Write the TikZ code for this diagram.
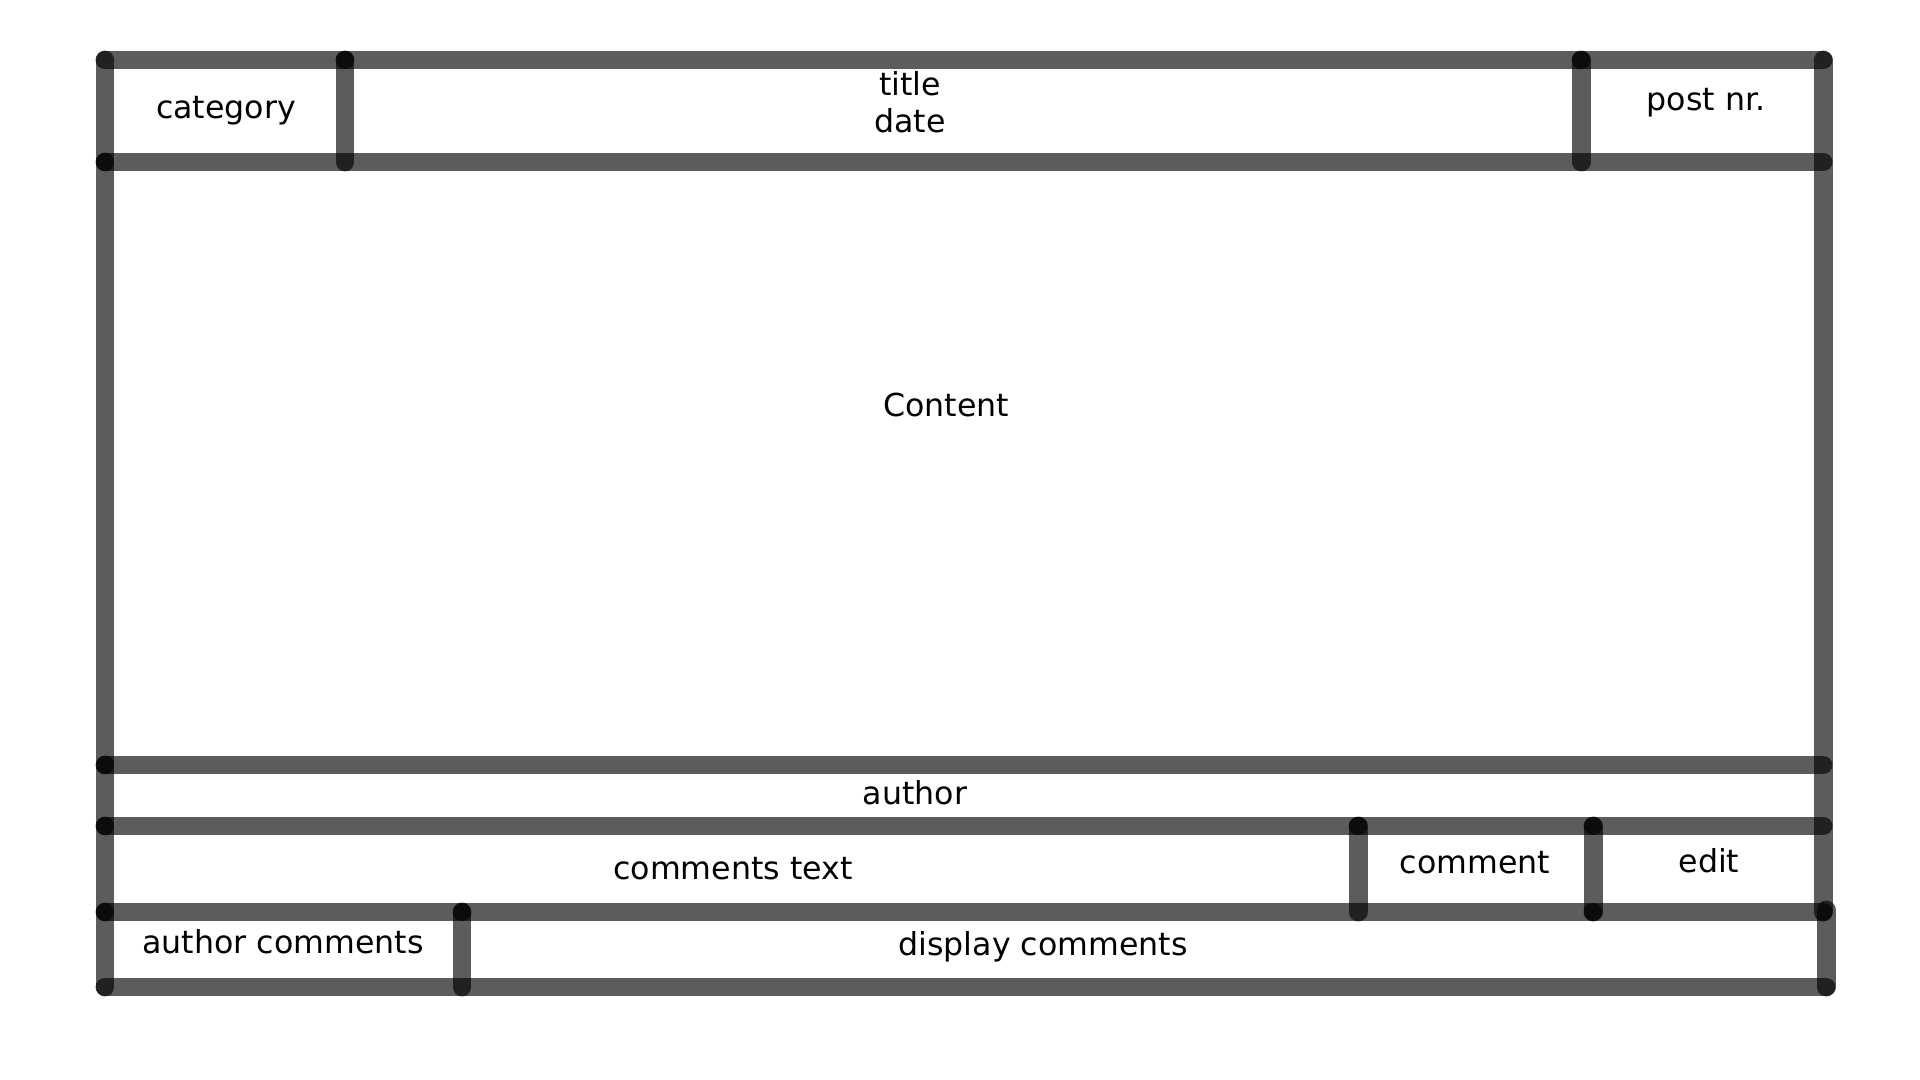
\documentclass[tikz,border=0pt]{standalone}
\usepackage{fontspec}
\setmainfont{DejaVu Sans}
\usepackage{tikz}
\tikzset{
% Two styles for the wireframe: pen stroke and box label
pen stroke/.style={line width=5.4pt,line cap=round,draw=black,draw opacity=0.64},
box label/.style={inner sep=0,anchor=base,font=\fontsize{9}{10.8}\selectfont}
}

\begin{document}
\begin{tikzpicture}
\useasboundingbox (0,0) rectangle (19.2,-10.8);
% corners and joints of the grid
\coordinate (a0) at (1.05,-0.60);
\coordinate (cat0) at (3.45,-0.60);
\coordinate (post0) at (15.81,-0.60);
\coordinate (r0) at (18.23,-0.60);
\coordinate (a1) at (1.05,-1.62);
\coordinate (cat1) at (3.45,-1.62);
\coordinate (post1) at (15.81,-1.62);
\coordinate (r1) at (18.23,-1.62);
\coordinate (a2) at (1.05,-7.65);
\coordinate (r2) at (18.23,-7.65);
\coordinate (a3) at (1.05,-8.26);
\coordinate (com3) at (13.58,-8.26);
\coordinate (edit3) at (15.93,-8.26);
\coordinate (r3) at (18.23,-8.26);
\coordinate (a4) at (1.05,-9.12);
\coordinate (auth4) at (4.62,-9.12);
\coordinate (com4) at (13.58,-9.12);
\coordinate (edit4) at (15.93,-9.12);
\coordinate (r4) at (18.23,-9.12);
\coordinate (rr4) at (18.26,-9.10);
\coordinate (a5) at (1.05,-9.87);
\coordinate (auth5) at (4.62,-9.87);
\coordinate (rr5) at (18.26,-9.87);

\foreach \p/\q in {a0/a1,a1/a2,a2/a3,a3/a4,a4/a5,r0/r4,rr4/rr5,
  a0/cat0,cat0/post0,post0/r0,a1/r1,a2/r2,
  a3/com3,com3/edit3,edit3/r3,a4/auth4,auth4/edit4,edit4/r4,a5/rr5,
  cat0/cat1,post0/post1,com3/com4,edit3/edit4,auth4/auth5}
  \draw[pen stroke] (\p) -- (\q);

\node[box label] (category) at (2.26,-1.19) {category};
\node[box label,align=center] (title) at (9.10,-1.33) {title\\date};
\node[box label] (postnr) at (17.06,-1.11) {post nr.};
\node[box label] (content) at (9.46,-4.16) {Content};
\node[box label] (author) at (9.15,-8.04) {author};
\node[box label] (commtext) at (7.33,-8.79) {comments text};
\node[box label] (comment) at (14.75,-8.73) {comment};
\node[box label] (edit) at (17.09,-8.72) {edit};
\node[box label] (authcomm) at (2.83,-9.53) {author comments};
\node[box label] (dispcomm) at (10.43,-9.55) {display comments};
\end{tikzpicture}
\end{document}
